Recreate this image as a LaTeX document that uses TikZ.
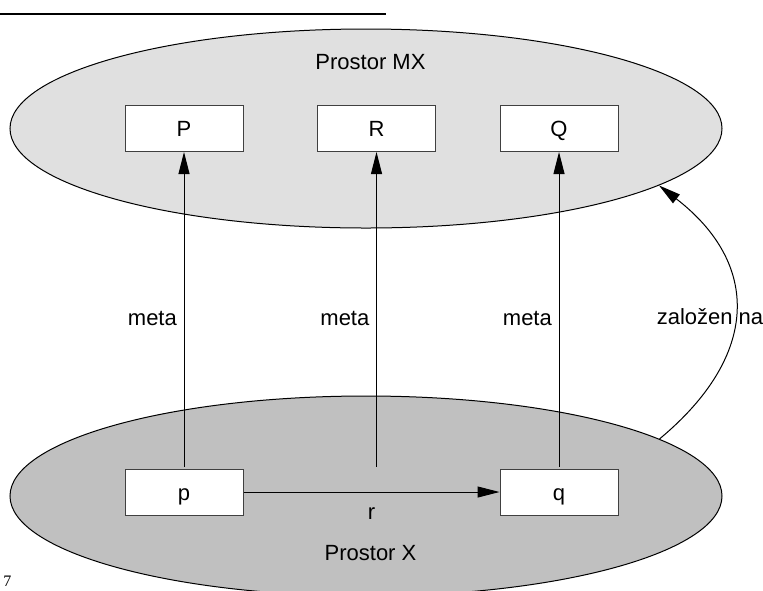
\documentclass[tikz,border=0pt]{standalone}
\usepackage{fontspec}
\setmainfont{Liberation Sans}
\newfontfamily\pageserif{Liberation Serif}
\usetikzlibrary{shapes.geometric,arrows.meta}
\definecolor{topfill}{RGB}{224,224,224}
\definecolor{botfill}{RGB}{192,192,192}
\definecolor{boxline}{RGB}{64,64,64}
\tikzset{
  txt/.style={font=\fontsize{11}{13}\selectfont},
  space/.style={ellipse, draw=black, line width=0.5pt, inner sep=0pt, minimum width=356pt},
  setbox/.style={txt, draw=boxline, fill=white, line width=0.5pt, minimum width=59pt, minimum height=23pt, inner sep=0pt, text height=8pt, text depth=0pt},
  conn/.style={draw=black, line width=0.5pt, -{Triangle[length=11pt,width=5.5pt]}},
  lab/.style={txt}
}
\begin{document}
\begin{tikzpicture}[x=0.5pt,y=-0.5pt]
\useasboundingbox (0,0) rectangle (763,590);
\clip (0,0) rectangle (763,590);
% top rule
\draw[line width=1.2pt] (0,14) coordinate (rulea) -- (386,14) coordinate (ruleb);
% spaces
\node[space, fill=topfill, minimum height=99.5pt] (topell) at (366,128.5) {};
\node[space, fill=botfill, minimum height=100pt] (botell) at (366,496) {};
\node[lab, anchor=base] (mxlabel) at (370.5,69) {Prostor MX};
\node[lab, anchor=base] (xlabel) at (370.5,560) {Prostor X};
% boxes
\node[setbox] (P) at (184,128.5) {P};
\node[setbox] (R) at (376.5,128.5) {R};
\node[setbox] (Q) at (559,128.5) {Q};
\node[setbox] (p) at (184,492) {p};
\node[setbox] (q) at (559,492) {q};
\coordinate (rs) at ([yshift=1pt]R.south |- p.north);
% connectors
\draw[conn] ([yshift=1pt]p.north) -- node[lab, pos=0.47, left] (m1) {meta} (P.south);
\draw[conn] (rs) -- node[lab, pos=0.47, left] (m2) {meta} (R.south);
\draw[conn] ([yshift=1pt]q.north) -- node[lab, pos=0.47, left] (m3) {meta} (Q.south);
\draw[conn] (p.east) -- node[lab, below=4pt] (rl) {r} (q.west);
\draw[conn] (botell.11.2) .. controls +(101,-84) and +(101,78) .. node[lab, pos=0.5, xshift=-12.5pt, yshift=-3.5pt] (zl) {založen na} (topell.-11.4);
% page number
\node[font=\pageserif\fontsize{8}{9}\selectfont, anchor=base west, inner sep=0pt] (pg) at (3,586) {7};
\end{tikzpicture}
\end{document}
